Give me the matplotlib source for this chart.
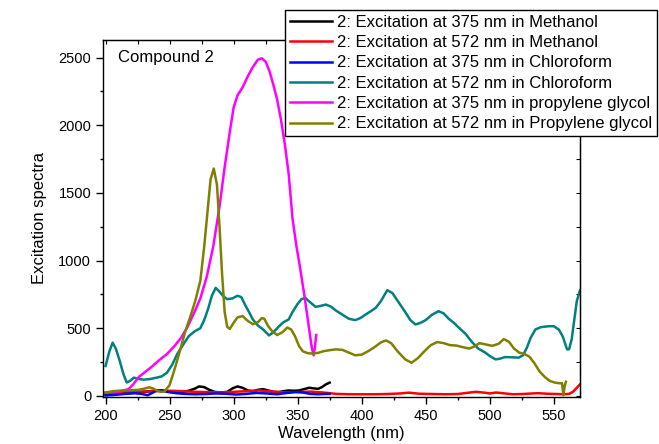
import numpy as np
import matplotlib
matplotlib.use("Agg")
import matplotlib.pyplot as plt
from matplotlib.ticker import MultipleLocator

plt.rcParams['font.family'] = ['Liberation Sans', 'DejaVu Sans']

# 2: excitation at 375 nm in methanol
me375_x = [200, 205, 210, 215, 220, 225, 230, 235, 240, 245, 250, 255, 260, 265, 270, 273, 277,
           281, 285, 290, 295, 299, 303, 307, 311, 315, 319, 323, 327, 331, 335, 339, 343, 347,
           351, 355, 359, 363, 366, 369, 372, 375]
me375_y = [10, 12, 15, 18, 20, 25, 30, 35, 40, 38, 30, 28, 30, 38, 55, 70, 65, 45, 30, 25, 30,
           55, 70, 60, 40, 35, 45, 50, 40, 30, 28, 35, 40, 38, 40, 50, 60, 55, 52, 65, 85, 98]

# 2: excitation at 572 nm in methanol
me572_x = [200, 210, 220, 230, 240, 250, 260, 270, 280, 290, 300, 310, 320, 330, 340, 350, 360,
           370, 380, 390, 400, 410, 420, 430, 437, 445, 455, 465, 475, 482, 489, 496, 500, 505,
           510, 518, 526, 533, 538, 545, 552, 558, 562, 565, 568, 570.5]
me572_y = [20, 25, 30, 32, 35, 38, 35, 30, 28, 25, 30, 35, 40, 32, 25, 28, 32, 25, 15, 12, 12,
           12, 14, 18, 24, 16, 14, 12, 14, 22, 30, 24, 18, 25, 20, 12, 14, 18, 20, 16, 14, 12,
           15, 30, 60, 85]

# 2: excitation at 375 nm in chloroform
cl375_x = [200, 208, 215, 222, 228, 233, 236, 240, 244, 248, 255, 262, 270, 278, 286, 294, 302,
           310, 318, 326, 334, 342, 348, 354, 360, 366, 372, 375]
cl375_y = [3, 8, 15, 20, 15, 5, 20, 40, 42, 30, 20, 15, 12, 14, 18, 16, 10, 15, 22, 18, 12, 22,
           30, 25, 15, 12, 15, 15]

# 2: excitation at 572 nm in chloroform
cl572_x = [200, 203, 205.5, 208, 211, 214, 216.5, 219, 222, 226, 230, 235, 240, 244, 248, 252,
           256, 260, 265, 270, 274, 277, 280, 283, 286, 289, 292, 295, 299, 303, 306, 309.5, 312,
           315, 319, 323, 327.7, 331, 335.5, 339, 343, 346, 350, 353, 356, 360, 364, 368, 372,
           376, 380, 385, 390, 395, 399, 403, 407, 411, 415, 420, 424, 429, 434, 438, 442, 446,
           450, 455, 460, 464, 468, 472, 476, 481, 486, 491, 496.7, 500, 504.5, 508, 512, 517,
           522.7, 526, 529, 532, 535.7, 540, 546, 550, 554, 557, 560.4, 562, 564, 566, 568, 570.5]
cl572_y = [221, 330, 393, 350, 260, 160, 99, 110, 135, 125, 120, 125, 135, 145, 172, 230, 310,
           370, 442, 480, 500, 560, 640, 740, 798, 770, 736, 715, 720, 740, 730, 663, 620, 565,
           520, 491, 447, 470, 515, 545, 565, 620, 680, 715, 724, 690, 658, 665, 675, 660, 630,
           600, 570, 560, 575, 601, 625, 651, 700, 781, 760, 690, 620, 560, 528, 540, 560, 600,
           626, 610, 570, 540, 503, 460, 400, 350, 319, 295, 270, 275, 287, 285, 283, 300, 356,
           430, 491, 508, 515, 515, 490, 440, 344, 345, 417, 560, 700, 780]

# 2: excitation at 375 nm in propylene glycol
pg375_x = [200, 206, 212, 218, 222, 226, 230, 236, 242, 248, 254, 259, 264, 269, 274, 279, 284,
           289, 293, 297, 300, 303, 307, 311, 315, 319, 322, 325, 328, 331, 334, 337, 340, 343,
           346, 349, 352, 355, 358, 361, 362.5, 363.5, 364.5]
pg375_y = [25, 28, 35, 50, 90, 140, 170, 215, 265, 310, 370, 430, 510, 610, 720, 880, 1100,
           1400, 1690, 1950, 2130, 2220, 2280, 2360, 2430, 2485, 2495, 2470, 2400, 2300, 2190,
           2040, 1860, 1640, 1310, 1110, 940, 760, 560, 360, 300, 360, 450]

# 2: excitation at 572 nm in propylene glycol
pg572_x = [200, 206, 213, 220, 226, 231, 234, 237, 240, 243, 246, 250, 254, 258, 262, 266, 270,
           274, 277, 279.5, 282, 284.5, 287, 289, 291, 293, 295, 297, 300, 303, 307, 311, 315,
           319, 322, 324, 327, 330, 334, 338, 342, 345, 348, 351, 354, 358, 362, 366, 370, 375,
           380, 385, 390, 395, 400, 405, 410, 415, 419, 423, 428, 434, 439, 444, 449, 454, 459,
           464, 469, 474, 479, 484, 488, 492, 497, 502, 507, 511, 515, 519, 523, 527, 531, 535,
           539, 543, 547, 551, 555, 556.5, 557.5, 558.5, 559.5]
pg572_y = [25, 35, 40, 42, 45, 55, 64, 55, 40, 30, 32, 80, 200, 330, 470, 580, 700, 850, 1100,
           1350, 1600, 1680, 1560, 1250, 900, 620, 510, 495, 540, 580, 590, 555, 530, 545, 575,
           570, 515, 480, 450, 470, 505, 490, 440, 370, 330, 315, 313, 318, 330, 338, 344, 340,
           320, 300, 305, 330, 360, 395, 410, 390, 330, 270, 245, 280, 330, 375, 398, 390, 375,
           372, 360, 350, 365, 390, 380, 370, 385, 420, 400, 350, 320, 310, 290, 240, 180, 140,
           110, 98, 93, 95, 5, 70, 105]

series = [
    (me375_x, me375_y, 'black', '2: Excitation at 375 nm in Methanol'),
    (me572_x, me572_y, 'red', '2: Excitation at 572 nm in Methanol'),
    (cl375_x, cl375_y, 'blue', '2: Excitation at 375 nm in Chloroform'),
    (cl572_x, cl572_y, '#008080', '2: Excitation at 572 nm in Chloroform'),
    (pg375_x, pg375_y, 'magenta', '2: Excitation at 375 nm in propylene glycol'),
    (pg572_x, pg572_y, '#808000', '2: Excitation at 572 nm in Propylene glycol'),
]

fig = plt.figure(figsize=(6.59, 4.44), dpi=100)
ax = fig.add_axes([0.1563, 0.1059, 0.7238, 0.804])

for x, y, c, lab in series:
    ax.plot(x, y, color=c, lw=1.8, label=lab)

ax.set_xlim(198, 570.5)
ax.set_ylim(-8, 2630)
ax.xaxis.set_major_locator(MultipleLocator(50))
ax.xaxis.set_minor_locator(MultipleLocator(25))
ax.yaxis.set_major_locator(MultipleLocator(500))
ax.yaxis.set_minor_locator(MultipleLocator(250))
ax.tick_params(which='both', direction='out', labelsize=10.5, width=1, top=False, right=False)
ax.tick_params(which='major', length=5)
ax.tick_params(which='minor', length=2.5)
for s in ax.spines.values():
    s.set_linewidth(1)

# mirrored inward ticks on top and right
ax2 = ax.secondary_xaxis('top')
ax2.xaxis.set_major_locator(MultipleLocator(25))
ax2.tick_params(direction='in', length=3, labeltop=False)
ax3 = ax.secondary_yaxis('right')
ax3.yaxis.set_major_locator(MultipleLocator(250))
ax3.tick_params(direction='in', length=3, labelright=False)

ax.set_xlabel('Wavelength (nm)', fontsize=12, labelpad=2)
ax.set_ylabel('Excitation spectra', fontsize=12, labelpad=8)
ax.text(0.031, 0.952, 'Compound 2', transform=ax.transAxes, fontsize=12, va='center')

leg = fig.legend(loc='upper right', bbox_to_anchor=(0.997, 0.978), fontsize=12,
                 frameon=True, fancybox=False, edgecolor='black', framealpha=1,
                 handlelength=2.5, handletextpad=0.3, labelspacing=0.32,
                 borderpad=0.3, borderaxespad=0)
leg.get_frame().set_linewidth(1)

fig.savefig('out.png', dpi=100)
